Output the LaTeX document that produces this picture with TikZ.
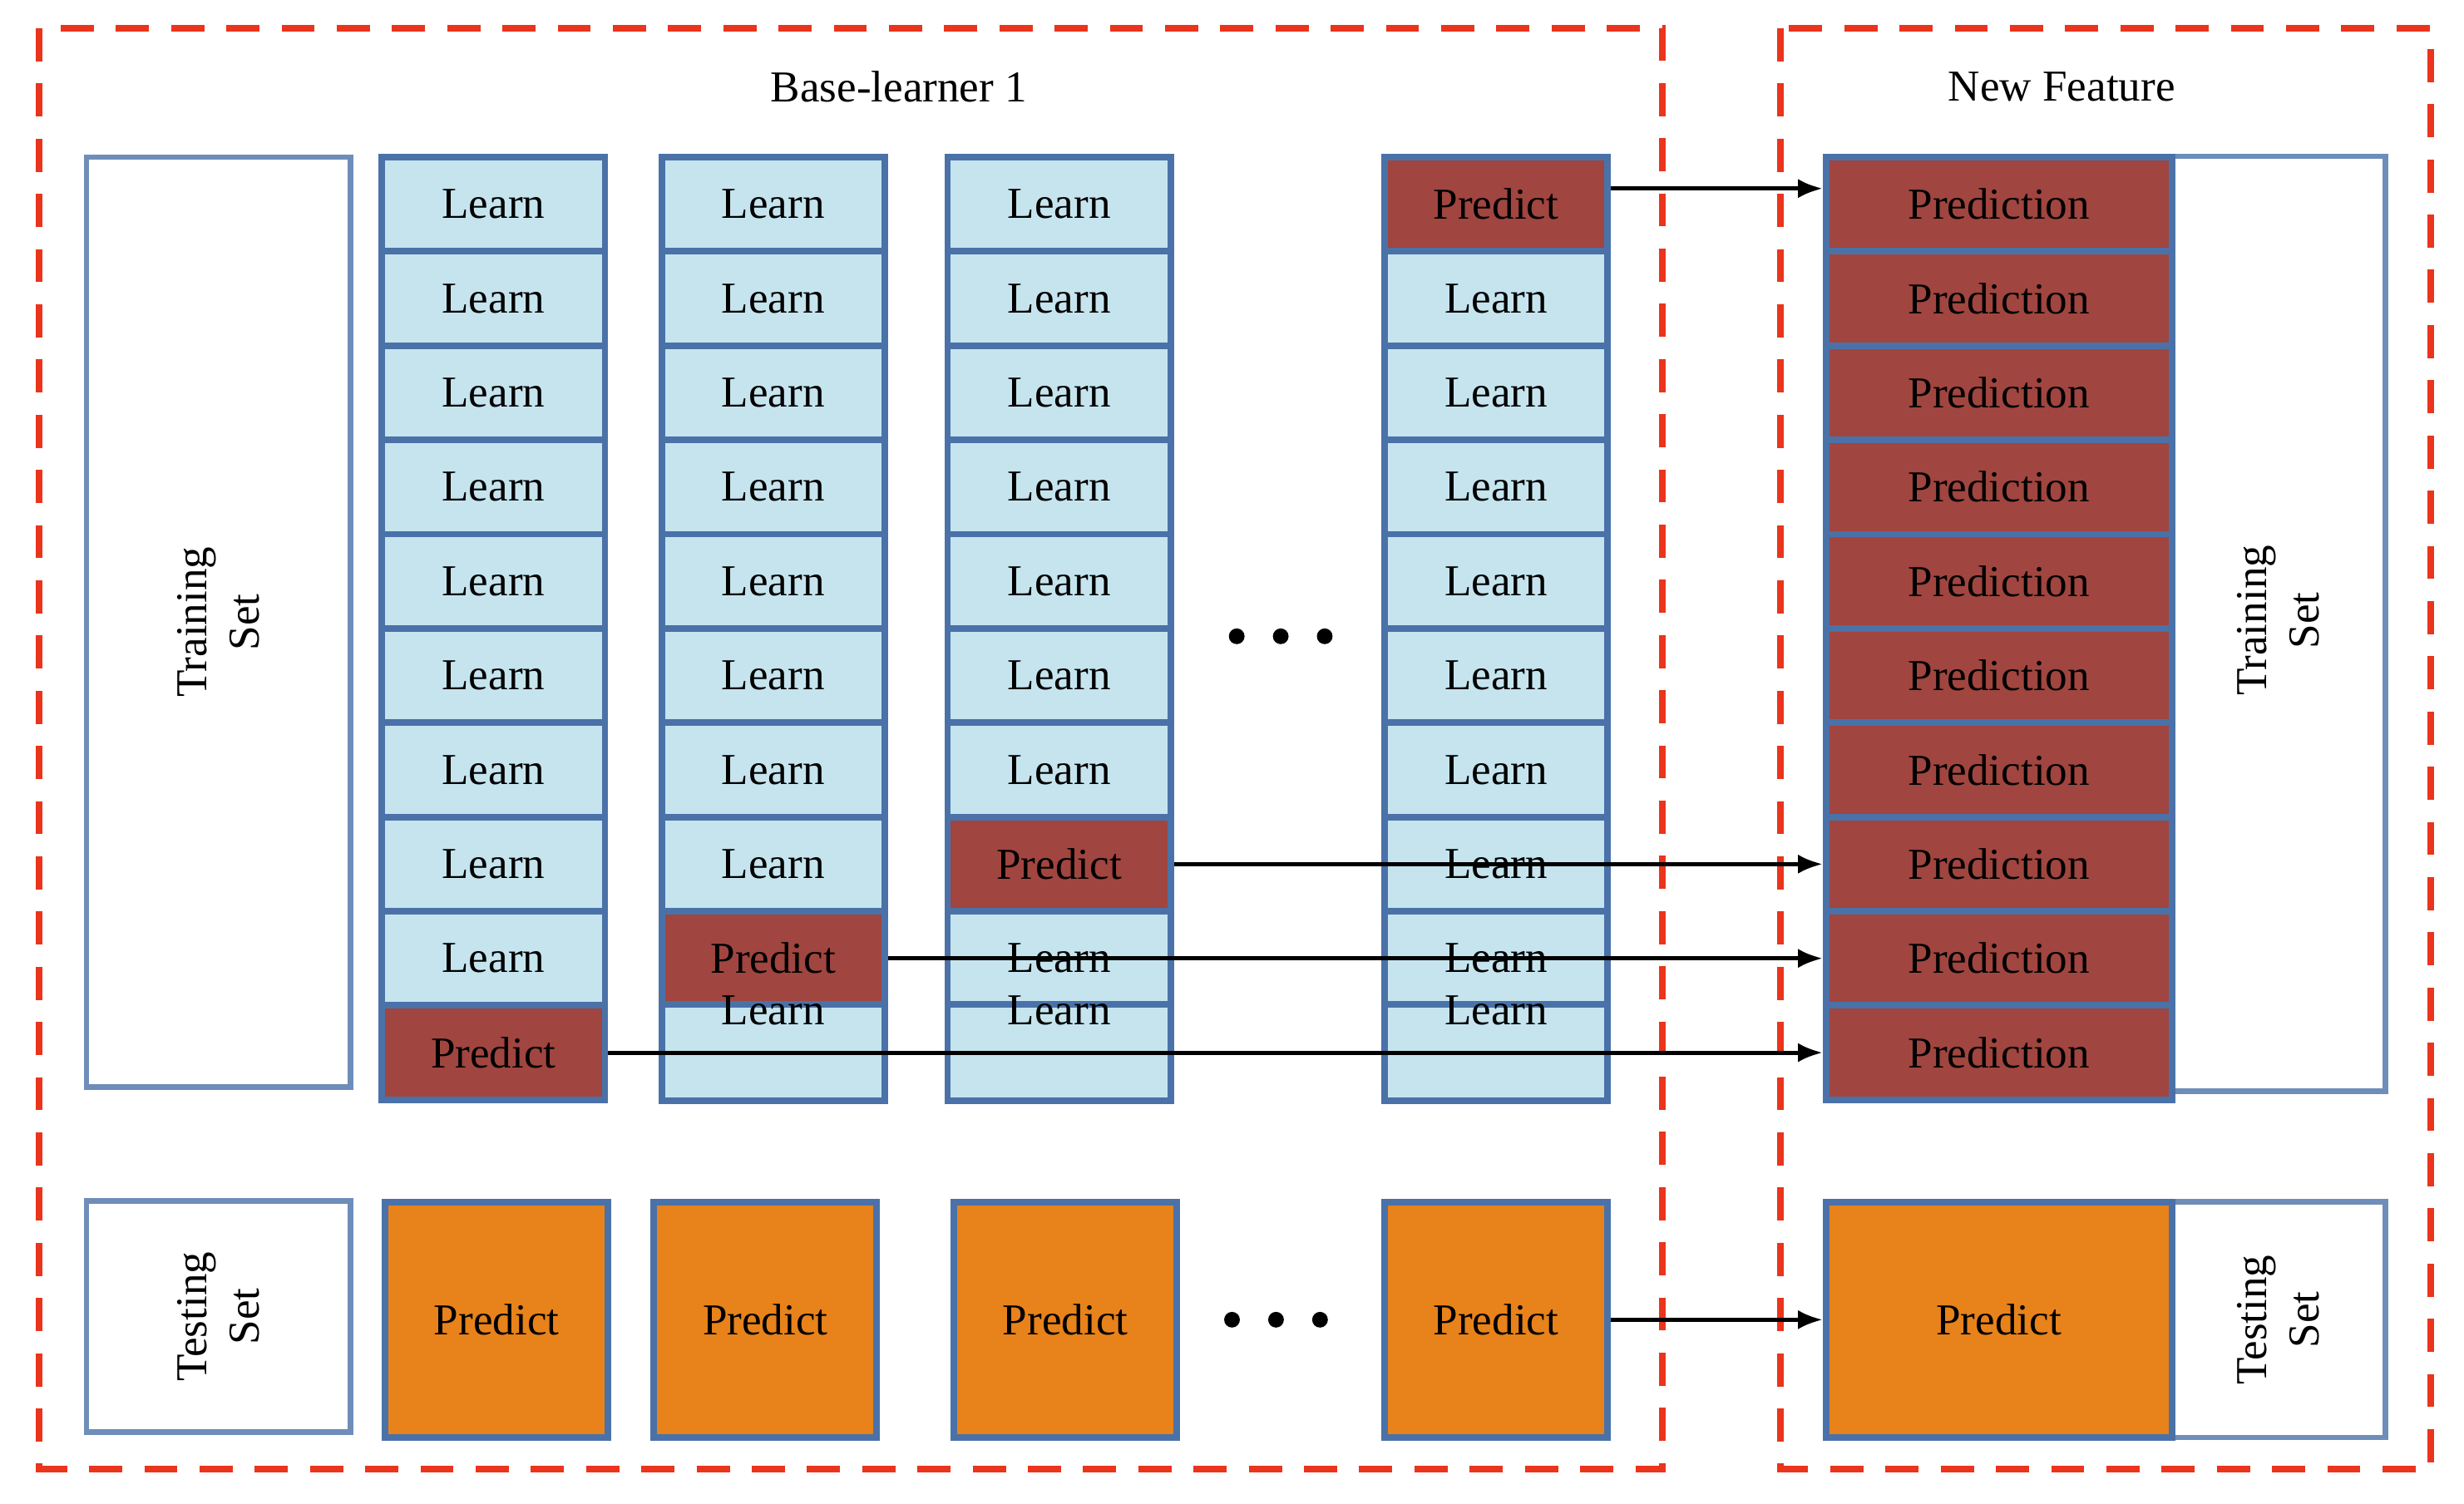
\documentclass[tikz,border=0pt]{standalone}
\usepackage{fontspec}
\setmainfont{Liberation Serif}
\usetikzlibrary{arrows.meta,calc}
\definecolor{cellblue}{RGB}{197,228,238}
\definecolor{edgeblue}{RGB}{74,114,168}
\definecolor{predred}{RGB}{160,69,63}
\definecolor{testorange}{RGB}{232,130,26}
\definecolor{boxred}{RGB}{234,52,28}
\tikzset{
 txt/.style={font=\fontsize{16}{19}\selectfont},
 cell/.style={txt, draw=edgeblue, line width=2.4pt, minimum width=2.84cm, minimum height=1.2cm, inner sep=0pt},
 learn/.style={cell, fill=cellblue},
 lastlearn/.style={learn, text height=0.25cm, text depth=0.97cm},
 predict/.style={cell, fill=predred},
 testbox/.style={cell, fill=testorange, minimum height=3cm},
 setbox/.style={draw=edgeblue!80, line width=2pt, fill=white, inner sep=0pt},
 group/.style={draw=boxred, line width=2.4pt, dash pattern=on 12pt off 8pt},
 feed/.style={-{Latex[length=9pt,width=7pt]}, line width=1.5pt},
 dot/.style={circle, fill=black, inner sep=0pt, minimum size=0.2cm}
}
\newcommand{\learncol}[4]{%
 \foreach \i in {#3,...,#4} {%
  \node[learn] (#1-\i) at (#2,130+60*\i) {Learn};%
 }%
}
\newcommand{\dotrow}[3]{%
 \foreach \k in {-1,0,1} {%
  \node[dot] (#1\k) at (#2+\k*28,#3) {};%
 }%
}
\begin{document}
\begin{tikzpicture}[x=0.02cm, y=-0.02cm]
 \useasboundingbox (0,0) rectangle (1568,957);
 % dashed groups
 \draw[group] (25,18) rectangle (1058,935);
 \draw[group] (1133,18) rectangle (1547,935);
 \node[txt] (base) at (572,55) {Base-learner 1};
 \node[txt] (feat) at (1312,55) {New Feature};
 % training and testing sets
 \node[setbox, minimum width=3.36cm, minimum height=11.84cm] (train) at (139,396) {};
 \node[txt, rotate=90, align=center] at (train) {Training\\Set};
 \node[setbox, minimum width=3.36cm, minimum height=2.94cm] (test) at (139,838) {};
 \node[txt, rotate=90, align=center] at (test) {Testing\\Set};
 % folds
 \learncol{a}{314}{0}{8}
 \node[predict] (a-9) at (314,670) {Predict};
 \learncol{b}{492}{0}{7}
 \node[predict] (b-8) at (492,610) {Predict};
 \node[lastlearn] (b-9) at (492,670) {Learn};
 \learncol{c}{674}{0}{6}
 \node[predict] (c-7) at (674,550) {Predict};
 \node[learn] (c-8) at (674,610) {Learn};
 \node[lastlearn] (c-9) at (674,670) {Learn};
 \node[predict] (e-0) at (952,130) {Predict};
 \learncol{e}{952}{1}{8}
 \node[lastlearn] (e-9) at (952,670) {Learn};
 \dotrow{d}{815}{405}
 \dotrow{t}{812}{840}
 % test predictions
 \node[testbox] (ta) at (316,840) {Predict};
 \node[testbox] (tb) at (487,840) {Predict};
 \node[testbox] (tc) at (678,840) {Predict};
 \node[testbox] (te) at (952,840) {Predict};
 % new feature
 \node[setbox, minimum width=2.72cm, minimum height=11.9cm] (ntrain) at (1450,397) {};
 \node[txt, rotate=90, align=center] at (1450,395) {Training\\Set};
 \node[setbox, minimum width=2.72cm, minimum height=3cm] (ntest) at (1450,840) {};
 \node[txt, rotate=90, align=center] at (ntest) {Testing\\Set};
 \foreach \i in {0,...,9} {
  \node[predict, minimum width=4.4cm] (n-\i) at (1272,130+60*\i) {Prediction};
 }
 \node[testbox, minimum width=4.4cm] (nt) at (1272,840) {Predict};
 % arrows
 \draw[feed] ($(e-0.east)+(0,-10)$) -- ($(n-0.west)+(0,-10)$);
 \draw[feed] (c-7.east) -- (n-7.west);
 \draw[feed] (b-8.east) -- (n-8.west);
 \draw[feed] (a-9.east) -- (n-9.west);
 \draw[feed] (te.east) -- (nt.west);
\end{tikzpicture}
\end{document}
